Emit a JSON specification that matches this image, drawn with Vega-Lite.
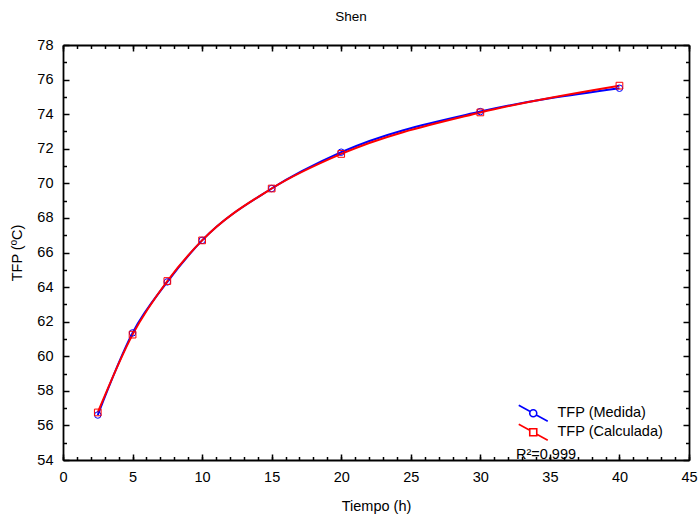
{
  "$schema": "https://vega.github.io/schema/vega-lite/v6.json",
  "width": 626,
  "height": 415,
  "autosize": {"type": "none"},
  "padding": {"left": 63, "top": 45, "right": 9, "bottom": 58},
  "title": {"text": "Shen", "fontSize": 13.5, "font": "Liberation Sans", "fontWeight": "normal", "offset": 14, "anchor": "middle", "dx": -25, "color": "black"},
  "config": {
    "view": {"stroke": null},
    "axis": {"grid": false, "domainColor": "black", "tickColor": "black", "labelColor": "black", "titleColor": "black", "labelFont": "Liberation Sans", "titleFont": "Liberation Sans", "labelFontSize": 14.5, "titleFontSize": 14.5, "titleFontWeight": "normal", "domainWidth": 1.8, "tickWidth": 1.5, "labelFlush": false, "labelOverlap": false, "labelBound": false}
  },
  "data": {"values": [
    {"t": 2.5, "serie": "TFP (Medida)", "tfp": 56.6},
    {"t": 5, "serie": "TFP (Medida)", "tfp": 61.35},
    {"t": 7.5, "serie": "TFP (Medida)", "tfp": 64.3},
    {"t": 10, "serie": "TFP (Medida)", "tfp": 66.7},
    {"t": 15, "serie": "TFP (Medida)", "tfp": 69.7},
    {"t": 20, "serie": "TFP (Medida)", "tfp": 71.8},
    {"t": 30, "serie": "TFP (Medida)", "tfp": 74.15},
    {"t": 40, "serie": "TFP (Medida)", "tfp": 75.5},
    {"t": 2.5, "serie": "TFP (Calculada)", "tfp": 56.75},
    {"t": 5, "serie": "TFP (Calculada)", "tfp": 61.25},
    {"t": 7.5, "serie": "TFP (Calculada)", "tfp": 64.35},
    {"t": 10, "serie": "TFP (Calculada)", "tfp": 66.7},
    {"t": 15, "serie": "TFP (Calculada)", "tfp": 69.7},
    {"t": 20, "serie": "TFP (Calculada)", "tfp": 71.7},
    {"t": 30, "serie": "TFP (Calculada)", "tfp": 74.1},
    {"t": 40, "serie": "TFP (Calculada)", "tfp": 75.65}
  ]},
  "layer": [
    {
      "transform": [{"filter": "datum.serie === 'TFP (Medida)'"}],
      "mark": {"type": "line", "interpolate": "monotone", "strokeWidth": 2},
      "encoding": {
        "x": {"field": "t", "type": "quantitative", "scale": {"domain": [0, 45], "nice": false},
          "axis": {"orient": "bottom", "values": [0,5,10,15,20,25,30,35,40,45], "ticks": false, "labelPadding": 10, "title": "Tiempo (h)", "titlePadding": 16}},
        "y": {"field": "tfp", "type": "quantitative", "scale": {"domain": [54, 78], "nice": false, "zero": false},
          "axis": {"orient": "left", "values": [54,56,58,60,62,64,66,68,70,72,74,76,78], "ticks": false, "labelPadding": 10, "title": "TFP (ºC)", "titlePadding": 12}},
        "color": {"field": "serie", "type": "nominal",
          "scale": {"domain": ["TFP (Medida)", "TFP (Calculada)"], "range": ["#0000ff", "#ff0000"]},
          "legend": {"orient": "none", "legendX": 453, "legendY": 361, "padding": 0,
            "title": "R²=0.999", "titleOrient": "bottom", "titleAnchor": "start", "titleFont": "Liberation Sans", "titleFontSize": 14.5, "titleFontWeight": "normal", "titleColor": "black", "titlePadding": 5,
            "labelFont": "Liberation Sans", "labelFontSize": 14.5, "labelColor": "black", "labelOffset": 17,
            "symbolSize": 100, "rowPadding": -11,
            "encode": {
              "title": {"update": {"dx": {"value": -10}}},
              "symbols": {"update": {
              "shape": {"signal": "datum.value === 'TFP (Medida)' ? 'M-2.9,-1.6L-0.61,-0.34M0.61,0.34L2.9,1.6M0.7,0A0.7,0.7,0,1,1,-0.7,0A0.7,0.7,0,1,1,0.7,0Z' : 'M-2.9,-1.6L-0.7,-0.386M0.7,0.386L2.9,1.6M-0.7,-0.7L0.7,-0.7L0.7,0.7L-0.7,0.7Z'"},
              "fill": {"value": "transparent"},
              "stroke": {"scale": "color", "field": "value"},
              "strokeWidth": {"value": 1.6},
              "opacity": {"value": 1}
            }}}
          }}
      }
    },
    {
      "transform": [{"filter": "datum.serie === 'TFP (Calculada)'"}],
      "mark": {"type": "line", "interpolate": "monotone", "strokeWidth": 2},
      "encoding": {
        "x": {"field": "t", "type": "quantitative",
          "axis": {"orient": "bottom", "values": [0,5,10,15,20,25,30,35,40,45], "labels": false, "domain": false, "tickSize": -6, "title": null}},
        "y": {"field": "tfp", "type": "quantitative",
          "axis": {"orient": "left", "values": [54,56,58,60,62,64,66,68,70,72,74,76,78], "labels": false, "domain": false, "tickSize": -6, "title": null}},
        "color": {"field": "serie", "type": "nominal"}
      }
    },
    {
      "transform": [{"filter": "datum.serie === 'TFP (Medida)'"}],
      "mark": {"type": "point", "shape": "circle", "filled": false, "size": 42, "strokeWidth": 1, "opacity": 1},
      "encoding": {
        "x": {"field": "t", "type": "quantitative",
          "axis": {"orient": "bottom", "values": [0,1,2,3,4,5,6,7,8,9,10,11,12,13,14,15,16,17,18,19,20,21,22,23,24,25,26,27,28,29,30,31,32,33,34,35,36,37,38,39,40,41,42,43,44,45], "labels": false, "domain": false, "tickSize": -3.5, "title": null}},
        "y": {"field": "tfp", "type": "quantitative",
          "axis": {"orient": "left", "values": [55,57,59,61,63,65,67,69,71,73,75,77], "labels": false, "domain": false, "tickSize": -3.5, "title": null}},
        "color": {"field": "serie", "type": "nominal"}
      }
    },
    {
      "transform": [{"filter": "datum.serie === 'TFP (Calculada)'"}],
      "mark": {"type": "point", "shape": "square", "filled": false, "size": 45, "strokeWidth": 1, "opacity": 1},
      "encoding": {
        "x": {"field": "t", "type": "quantitative",
          "axis": {"orient": "top", "values": [0,5,10,15,20,25,30,35,40,45], "labels": false, "tickSize": -6, "title": null}},
        "y": {"field": "tfp", "type": "quantitative",
          "axis": {"orient": "right", "values": [54,56,58,60,62,64,66,68,70,72,74,76,78], "labels": false, "tickSize": -6, "title": null}},
        "color": {"field": "serie", "type": "nominal"}
      }
    },
    {
      "mark": {"type": "point", "opacity": 0},
      "encoding": {
        "x": {"field": "t", "type": "quantitative",
          "axis": {"orient": "top", "values": [0,1,2,3,4,5,6,7,8,9,10,11,12,13,14,15,16,17,18,19,20,21,22,23,24,25,26,27,28,29,30,31,32,33,34,35,36,37,38,39,40,41,42,43,44,45], "labels": false, "domain": false, "tickSize": -3.5, "title": null}},
        "y": {"field": "tfp", "type": "quantitative",
          "axis": {"orient": "right", "values": [55,57,59,61,63,65,67,69,71,73,75,77], "labels": false, "domain": false, "tickSize": -3.5, "title": null}}
      }
    }
  ],
  "resolve": {"axis": {"x": "independent", "y": "independent"}}
}
